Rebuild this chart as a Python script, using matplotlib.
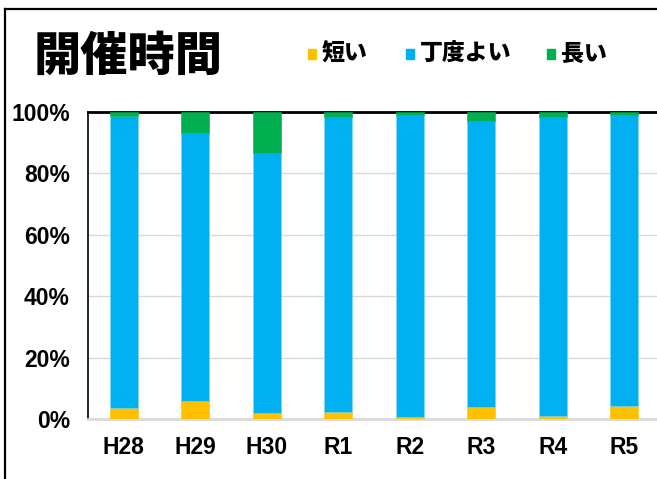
import matplotlib
matplotlib.use("Agg")
import matplotlib.pyplot as plt
from matplotlib.lines import Line2D
from matplotlib.patches import Rectangle
from matplotlib.ticker import FuncFormatter

plt.rcParams['font.family'] = ['Noto Sans CJK JP', 'DejaVu Sans']

categories = ["H28", "H29", "H30", "R1", "R2", "R3", "R4", "R5"]
short = [3.5, 5.9, 2.0, 2.2, 0.6, 4.0, 1.1, 4.3]
good = [95.1, 87.2, 84.5, 96.1, 98.3, 93.1, 97.2, 94.7]
long_ = [1.4, 6.9, 13.5, 1.7, 1.1, 2.9, 1.7, 1.0]
series_names = ["短い", "丁度よい", "長い"]
colors = ["#FFC000", "#00B0F0", "#00B050"]
title = "開催時間"
yticks = [0, 20, 40, 60, 80, 100]

W, H = 657, 479
fig = plt.figure(figsize=(W / 100, H / 100), dpi=100)
ax = fig.add_axes([88 / W, 1 - 419 / H, (660 - 88) / W, (419 - 112) / H])

x = list(range(len(categories)))
bottom = [0.0] * len(categories)
for vals, col in zip([short, good, long_], colors):
    ax.bar(x, vals, width=0.39, bottom=bottom, color=col, zorder=3,
           edgecolor='#7fd6f5' if col == "#00B0F0" else col, linewidth=0.4)
    bottom = [b + v for b, v in zip(bottom, vals)]

ax.set_xlim(-0.5, len(categories) - 0.5)
ax.set_ylim(0, 100)
ax.set_yticks(yticks)
ax.yaxis.set_major_formatter(FuncFormatter(lambda v, p: f"{int(v)}%"))
ax.set_xticks(x)
ax.set_xticklabels(categories)
ax.yaxis.grid(True, color="#d9d9d9", linewidth=1.0, zorder=0)
ax.set_axisbelow(True)
for lab in ax.get_yticklabels() + ax.get_xticklabels():
    lab.set_fontsize(16.5)
    lab.set_fontweight('bold')
    lab.set_family(['Liberation Sans', 'DejaVu Sans'])
ax.tick_params(axis='y', length=0, pad=13)
ax.tick_params(axis='x', length=0, pad=12)
ax.spines['right'].set_visible(False)
ax.spines['left'].set_color('black')
ax.spines['left'].set_linewidth(1.2)
ax.spines['top'].set_color('black')
ax.spines['top'].set_linewidth(2.0)
ax.spines['bottom'].set_color('#d9d9d9')
ax.spines['bottom'].set_linewidth(2.0)

# outer frame
fig.add_artist(Line2D([5 / W, 5 / W], [0, 1 - 9 / H], color='black', linewidth=1.6, transform=fig.transFigure))
fig.add_artist(Line2D([5 / W, 1], [1 - 9 / H, 1 - 9 / H], color='black', linewidth=1.6, transform=fig.transFigure))

# title
fig.text(128 / W, 1 - 57 / H, title, fontsize=34, fontweight='black', ha='center', va='center')

# legend
leg_sq_x = [308, 406, 547]
for sx, name, col in zip(leg_sq_x, series_names, colors):
    fig.add_artist(Rectangle((sx / W, 1 - 59 / H), 8 / W, 10 / H, color=col, transform=fig.transFigure))
    fig.text((sx + 14) / W, 1 - 54 / H, name, fontsize=16.5, fontweight='black', ha='left', va='center')

fig.savefig("out.png", dpi=100)
